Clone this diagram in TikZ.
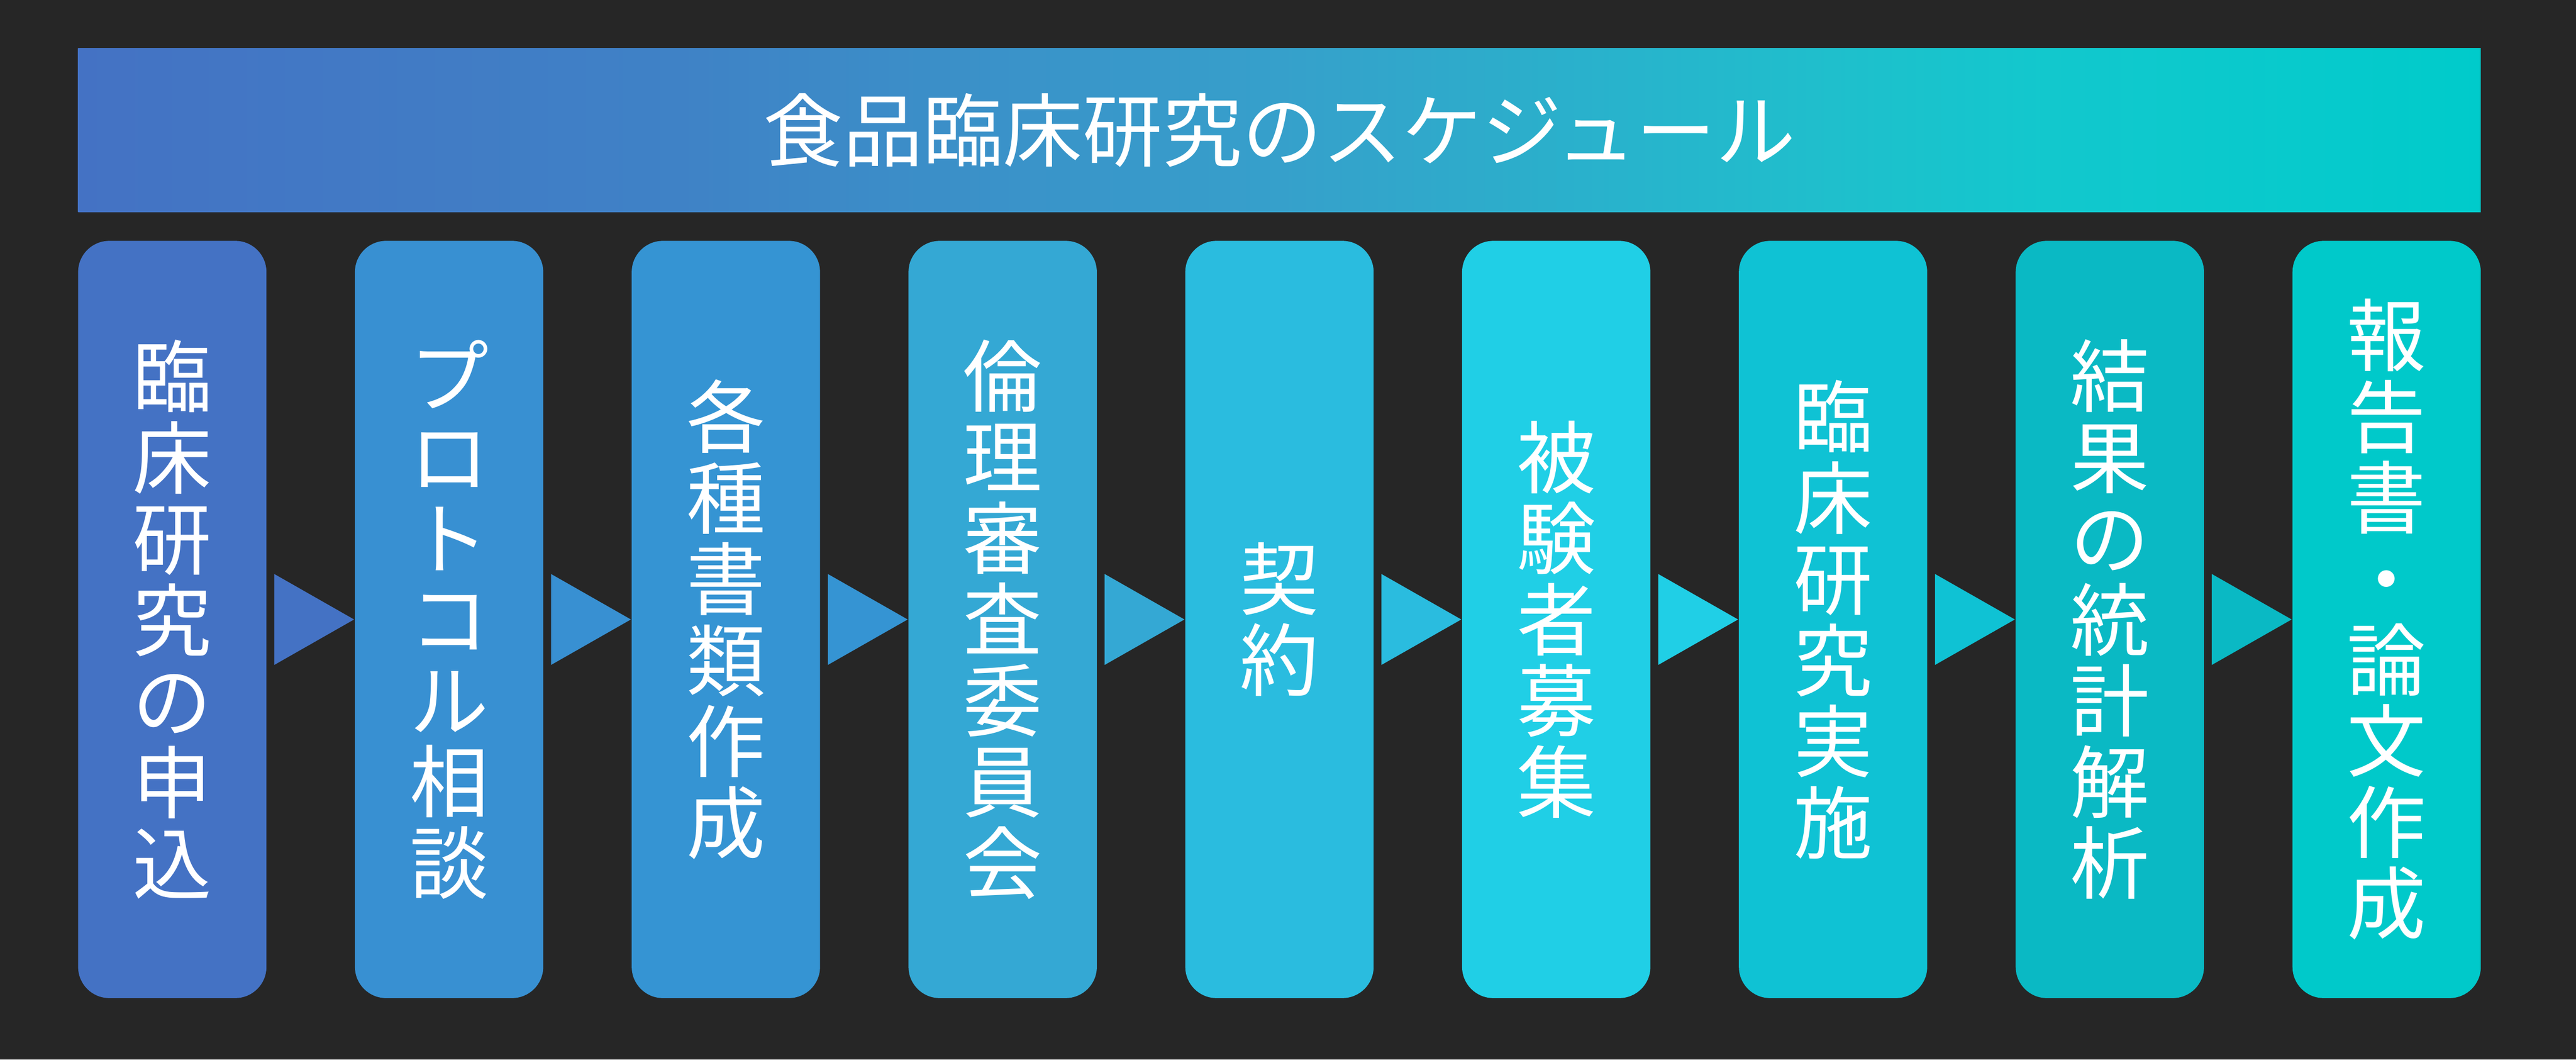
\documentclass[tikz,border=0pt]{standalone}
\usepackage{fontspec}
\newfontfamily\cjk{Noto Sans CJK JP}
\usetikzlibrary{calc}
\definecolor{bg}{HTML}{262626}
\definecolor{g0}{HTML}{4472C4}
\definecolor{g1}{HTML}{3F82C6}
\definecolor{g2}{HTML}{36A0CB}
\definecolor{g3}{HTML}{1FBFCC}
\definecolor{g4}{HTML}{12C8CD}
\definecolor{g5}{HTML}{00CBCB}
\definecolor{c1}{HTML}{4472C4}
\definecolor{c2}{HTML}{3890D2}
\definecolor{c3}{HTML}{3594D3}
\definecolor{c4}{HTML}{34A8D4}
\definecolor{c5}{HTML}{2ABCDF}
\definecolor{c6}{HTML}{20CFE6}
\definecolor{c7}{HTML}{0FC2D4}
\definecolor{c8}{HTML}{0AB9C4}
\definecolor{c9}{HTML}{00C9CA}
\pgfdeclarehorizontalshading{bannershade}{100bp}{color(0bp)=(g0); color(25bp)=(g0); color(37.5bp)=(g1); color(50bp)=(g2); color(61.5bp)=(g3); color(66bp)=(g4); color(75bp)=(g5); color(100bp)=(g5)}
\tikzset{
  banner/.style={shade, shading=bannershade, minimum width=562.7pt, minimum height=38.4pt, inner sep=0pt, text=white, font=\cjk\fontsize{18.7}{19}\selectfont},
  stepbox/.style={fill=#1, rounded corners=7.3pt, minimum width=44.1pt, minimum height=177.3pt, inner sep=0pt, text=white, align=center, font=\cjk\fontsize{18.5}{19}\selectfont},
  tri/.style={fill=#1}
}
\begin{document}
\begin{tikzpicture}
\fill[bg] (0,0) rectangle (603.3pt,-248.1pt);
\useasboundingbox (0,0) rectangle (603.3pt,-248.1pt);
\node[banner] (title) at (299.65pt,-30.5pt) {食品臨床研究のスケジュール};
\node[stepbox=c1] (b1) at (40.35pt,-145.05pt) {臨\\床\\研\\究\\の\\申\\込};
\node[stepbox=c2] (b2) at (105.175pt,-145.05pt) {プ\\ロ\\ト\\コ\\ル\\相\\談};
\node[stepbox=c3] (b3) at (170pt,-145.05pt) {各\\種\\書\\類\\作\\成};
\node[stepbox=c4] (b4) at (234.825pt,-145.05pt) {倫\\理\\審\\査\\委\\員\\会};
\node[stepbox=c5] (b5) at (299.65pt,-145.05pt) {契\\約};
\node[stepbox=c6] (b6) at (364.475pt,-145.05pt) {被\\験\\者\\募\\集};
\node[stepbox=c7] (b7) at (429.3pt,-145.05pt) {臨\\床\\研\\究\\実\\施};
\node[stepbox=c8] (b8) at (494.125pt,-145.05pt) {結\\果\\の\\統\\計\\解\\析};
\node[stepbox=c9] (b9) at (558.95pt,-145.05pt) {報\\告\\書\\・\\論\\文\\作\\成};
\foreach \a/\b/\c in {b1/b2/c1,b2/b3/c2,b3/b4/c3,b4/b5/c4,b5/b6/c5,b6/b7/c6,b7/b8/c7,b8/b9/c8}{
  \fill[tri=\c] ($(\b.west)+(-18.7pt,10.65pt)$) -- (\b.west) -- ($(\b.west)+(-18.7pt,-10.65pt)$) -- cycle;
}
\end{tikzpicture}
\end{document}
